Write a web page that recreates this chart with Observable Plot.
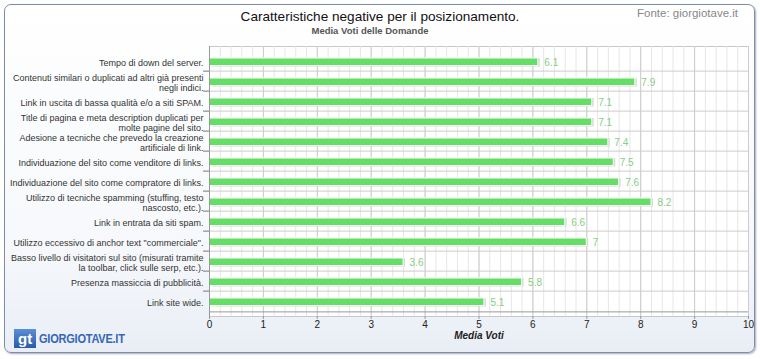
<!DOCTYPE html>
<html><head><meta charset="utf-8">
<script src="https://cdn.jsdelivr.net/npm/d3@7"></script>
<script src="https://cdn.jsdelivr.net/npm/@observablehq/plot@0.6"></script>
<style>
body{margin:0;width:760px;height:359px;overflow:hidden;background:#fff;font-family:"Liberation Sans",Arial,sans-serif;}
#wrap{position:relative;width:760px;height:359px;}
#panel{position:absolute;left:4px;top:4px;width:749px;height:347px;border:1.5px solid #7d8fa8;border-radius:7px;background:linear-gradient(#ffffff,#f6f8fb 70%,#e9eef6);box-shadow:1px 1px 2px #aab;}
#chart{position:absolute;left:0;top:0;}
.t{position:absolute;white-space:nowrap;}
#title{left:0;width:760px;text-align:center;top:9px;font-size:13.6px;color:#111;}
#sub{left:0;width:740px;text-align:center;top:25px;font-size:9.5px;font-weight:bold;color:#555;}
#src{left:637px;top:7px;font-size:11.5px;color:#888;}
#logo{left:14px;top:329px;}
#gt{display:inline-block;background:linear-gradient(#5b8fd6,#2a5aa8);color:#fff;font-weight:bold;font-size:15px;padding:0 4px;line-height:19px;vertical-align:top;}
#lt{display:inline-block;color:#3467b8;font-weight:bold;font-size:13px;letter-spacing:-0.3px;line-height:14px;margin-left:3px;transform:scaleX(0.85);transform-origin:left;}
</style></head>
<body><div id="wrap">
<div id="panel"></div>
<div id="chart"></div>
<div class="t" id="title">Caratteristiche negative per il posizionamento.</div>
<div class="t" id="sub">Media Voti delle Domande</div>
<div class="t" id="src">Fonte: giorgiotave.it</div>
<div class="t" id="logo"><span id="gt">gt</span><span id="lt">GIORGIOTAVE.IT</span></div>
</div>
<script>
const categories = [
  "Tempo di down del server.",
  "Contenuti similari o duplicati ad altri già presenti\nnegli indici.",
  "Link in uscita di bassa qualità e/o a siti SPAM.",
  "Title di pagina e meta description duplicati per\nmolte pagine del sito.",
  "Adesione a tecniche che prevedo la creazione\nartificiale di link.",
  "Individuazione del sito come venditore di links.",
  "Individuazione del sito come compratore di links.",
  "Utilizzo di tecniche spamming (stuffing, testo\nnascosto, etc.).",
  "Link in entrata da siti spam.",
  "Utilizzo eccessivo di anchor text \"commerciale\".",
  "Basso livello di visitatori sul sito (misurati tramite\nla toolbar, click sulle serp, etc.).",
  "Presenza massiccia di pubblicità.",
  "Link site wide."
];
const values = [6.1, 7.9, 7.1, 7.1, 7.4, 7.5, 7.6, 8.2, 6.6, 7, 3.6, 5.8, 5.1];
const xTicks = [0,1,2,3,4,5,6,7,8,9,10];
const xLabel = "Media Voti";

const data = categories.map((c, i) => ({cat: c, v: values[i]}));
const W = 760, H = 359, mT = 46, mB = 43, mL = 209, mR = 12;
const bw = (H - mT - mB) / categories.length;
const minor = d3.range(0, 50).map(i => i / 5);

const chart = Plot.plot({
  width: W, height: H, marginLeft: mL, marginRight: mR, marginTop: mT, marginBottom: mB,
  style: {background: "transparent", fontFamily: "Liberation Sans, Arial, sans-serif", fontSize: "9px", color: "#333"},
  x: {domain: [0, 10], label: null},
  y: {domain: categories, padding: 0, label: null},
  marks: [
    Plot.frame({fill: "white", stroke: "#c8c8c8"}),
    Plot.ruleX(minor, {stroke: "#e6e6e6"}),
    Plot.ruleX(xTicks, {stroke: "#cccccc"}),
    Plot.ruleY(categories.slice(1), {y: d => d, dy: -bw / 2, stroke: "#cccccc"}),
    Plot.ruleY(categories.slice(1), {y: d => d, dy: -bw / 2, x1: -0.11, x2: 0, stroke: "#777", clip: false}),
    Plot.barX(data, {x: "v", y: "cat", fill: "#d9dcd9", insetTop: 7, insetBottom: 4.5, dx: 2}),
    Plot.barX(data, {x: "v", y: "cat", fill: "#66dd66", stroke: "#f4fff4", strokeWidth: 1, insetTop: 7, insetBottom: 5.5}),
    Plot.text(data, {x: "v", y: "cat", text: d => String(d.v), dx: 6, dy: 1.5, textAnchor: "start", fill: "#88cc88", fontSize: 10}),
    Plot.ruleX([0], {stroke: "#999"}),
    Plot.ruleY([0], {y: () => categories[categories.length - 1], dy: bw / 2, stroke: "#999"}),
    Plot.axisY({tickSize: 0, tickPadding: 6, dy: 1, lineHeight: 1.18, fill: "#333", fontSize: 9}),
    Plot.axisX({ticks: xTicks, tickSize: 3, tickPadding: 1, stroke: "#999", fill: "#222", fontSize: 10, label: null}),
    Plot.text([xLabel], {frameAnchor: "bottom", dy: 22, text: d => d, fontWeight: "bold", fontStyle: "italic", fontSize: 10, fill: "#222"})
  ]
});
document.getElementById("chart").appendChild(chart);
</script>
</body></html>
